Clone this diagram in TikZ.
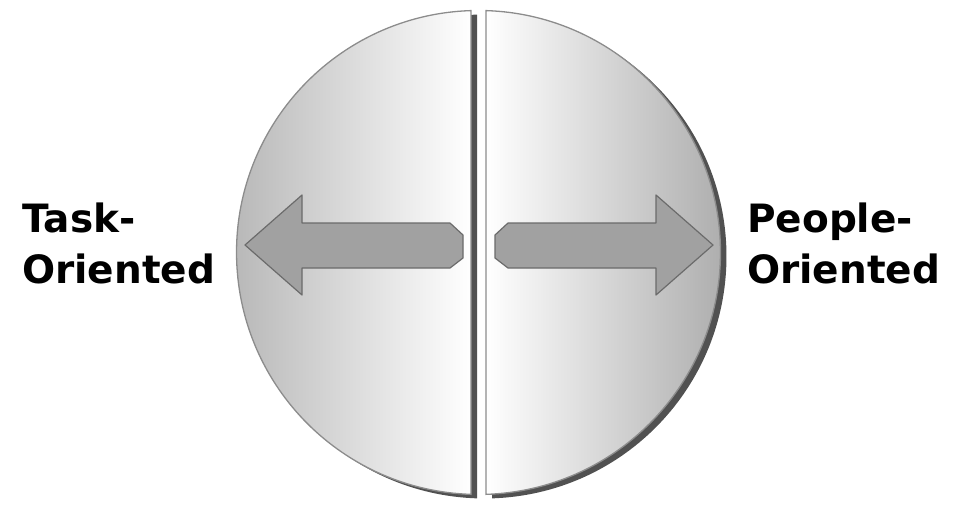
\documentclass[tikz,border=0pt]{standalone}
\usepackage{fontspec}
\setsansfont{DejaVu Sans}
\usetikzlibrary{shadows}

\begin{document}
\begin{tikzpicture}[x=1pt,y=-1pt,
    half/.style={draw=black!45, line width=1.3pt,
      drop shadow={shadow xshift=6pt,shadow yshift=-4pt,fill=black!80,opacity=.85}},
    bigarrow/.style={fill=black!37, draw=black!58, line width=1.2pt, line join=round},
    sidelabel/.style={anchor=west, inner sep=0pt, align=left,
      font=\sffamily\bfseries\fontsize{39}{51}\selectfont}]
    \useasboundingbox (0,0) rectangle (957,509);

    % the two halves of the disc
    \path[half, left color=black!28, right color=white]
      (471,10.6) arc[start angle=268.22, end angle=91.78, radius=242] -- cycle;
    \path[half, left color=white, right color=black!32]
      (486,10.6) arc[start angle=-88.22, end angle=88.22, radius=242] -- cycle;

    % arrows
    \draw[bigarrow] (245,245) -- (302,195) -- (302,223) -- (450,223) -- (463,235)
      -- (463,258) -- (450,268) -- (302,268) -- (302,295) -- cycle;
    \draw[bigarrow] (713,245) -- (656,195) -- (656,223) -- (508,223) -- (495,235)
      -- (495,258) -- (508,268) -- (656,268) -- (656,295) -- cycle;

    \node[sidelabel] (task) at (22,243) {Task-\\Oriented};
    \node[sidelabel] (people) at (747,243) {People-\\Oriented};
  \end{tikzpicture}
\end{document}
